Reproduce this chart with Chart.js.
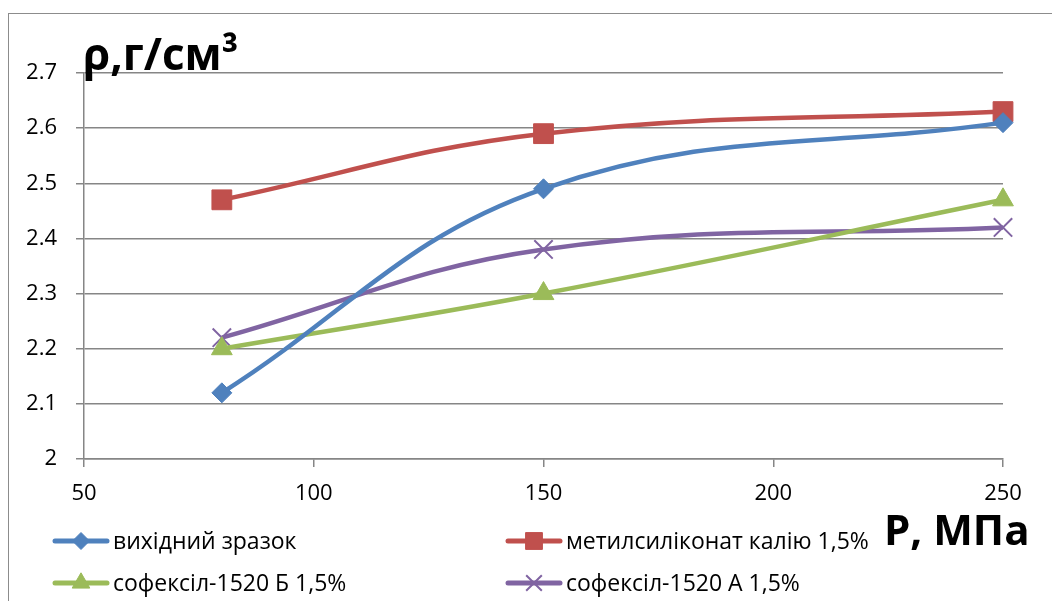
<!DOCTYPE html>
<html>
<head>
<meta charset="utf-8">
<script src="https://cdn.jsdelivr.net/npm/chart.js@4"></script>
<style>
  html, body { margin: 0; padding: 0; background: #fff; }
  #wrap { position: relative; width: 1052px; height: 601px; overflow: hidden; }
  #frame { position: absolute; left: 8px; top: 13px; width: 1100px; height: 700px; border: 1px solid #8c8c8c; box-sizing: border-box; pointer-events: none; }
</style>
</head>
<body>
<div id="wrap">
  <canvas id="densityChart" width="1052" height="601"></canvas>
  <div id="frame"></div>
</div>
<script>
// Pressure, MPa
const pressure = [80, 150, 250];

// Density, g/cm3
const initialSample = [2.12, 2.49, 2.61];
const potassiumMethylsiliconate = [2.47, 2.59, 2.63];
const sofexilB = [2.20, 2.30, 2.47];
const sofexilA = [2.22, 2.38, 2.42];

const seriesNames = [
    "вихідний зразок",
    "метилсиліконат калію 1,5%",
    "софексіл-1520 Б 1,5%",
    "софексіл-1520 А 1,5%"
];

const yTitle = "ρ,г/см³";
const xTitle = "P, МПа";

const FONT = "'Open Sans', 'Noto Sans', sans-serif";
const GRID = "#868686";

function toPoints(values) {
    return pressure.map((p, i) => ({ x: p, y: values[i] }));
}

// Legend laid out in two columns, like the original
const legendAndTitles = {
    id: "legendAndTitles",
    afterDraw(chart) {
        const ctx = chart.ctx;
        ctx.save();

        // axis titles
        ctx.fillStyle = "#000";
        ctx.textBaseline = "alphabetic";
        ctx.textAlign = "left";
        ctx.font = "bold 44px " + FONT;
        ctx.fillText(yTitle, 83, 70);
        ctx.font = "bold 42px " + FONT;
        ctx.fillText(xTitle, 884, 545);

        // legend
        const cols = [55, 508];
        const rows = [541, 583];
        chart.data.datasets.forEach((ds, i) => {
            const x = cols[i % 2];
            const y = rows[Math.floor(i / 2)];
            ctx.strokeStyle = ds.borderColor;
            ctx.fillStyle = ds.borderColor;
            ctx.lineWidth = 5;
            ctx.lineCap = "round";
            ctx.beginPath();
            ctx.moveTo(x, y);
            ctx.lineTo(x + 52, y);
            ctx.stroke();
            ctx.lineCap = "butt";
            ctx.lineWidth = ds.pointBorderWidth;
            Chart.helpers.drawPoint(ctx, {
                pointStyle: ds.pointStyle,
                radius: ds.pointRadius * 0.85,
                borderWidth: ds.pointBorderWidth
            }, x + 26, y);
            ctx.fillStyle = "#000";
            ctx.font = "23px " + FONT;
            ctx.textBaseline = "middle";
            ctx.fillText(ds.label, x + 58, y + 1);
        });
        ctx.restore();
    }
};

function series(label, values, color, style, radius) {
    return {
        label: label,
        data: toPoints(values),
        borderColor: color,
        backgroundColor: color,
        pointBackgroundColor: color,
        pointBorderColor: color,
        pointBorderWidth: style === "crossRot" ? 2 : 1,
        borderWidth: 4.5,
        pointStyle: style,
        pointRadius: radius,
        tension: 0.4,
        clip: false
    };
}

const ctx = document.getElementById("densityChart").getContext("2d");
const densityChart = new Chart(ctx, {
    type: "line",
    data: {
        datasets: [
            series(seriesNames[0], initialSample, "#4F81BD", "rectRot", 10),
            series(seriesNames[1], potassiumMethylsiliconate, "#C0504D", "rect", 14),
            series(seriesNames[2], sofexilB, "#9BBB59", "triangle", 12),
            series(seriesNames[3], sofexilA, "#8064A2", "crossRot", 13)
        ]
    },
    options: {
        responsive: false,
        animation: false,
        layout: { padding: { top: 73, right: 49, bottom: 0, left: 0 } },
        plugins: {
            legend: { display: false },
            tooltip: { enabled: false }
        },
        scales: {
            x: {
                type: "linear",
                min: 50,
                max: 250,
                afterFit(scale) { scale.height = 142; },
                ticks: {
                    stepSize: 50,
                    padding: 14,
                    color: "#000",
                    font: { family: FONT, size: 22 }
                },
                grid: {
                    drawOnChartArea: false,
                    drawTicks: true,
                    tickLength: 8,
                    color: GRID,
                    lineWidth: 1.5
                },
                border: { color: GRID, width: 1.5 }
            },
            y: {
                min: 2,
                max: 2.7,
                afterFit(scale) { scale.width = 84; },
                ticks: {
                    stepSize: 0.1,
                    padding: 19,
                    color: "#000",
                    font: { family: FONT, size: 22 },
                    callback: (v) => (Math.round(v * 10) / 10).toString()
                },
                grid: {
                    color: GRID,
                    lineWidth: 1.5,
                    tickLength: 8
                },
                border: { color: GRID, width: 1.5 }
            }
        }
    },
    plugins: [legendAndTitles]
});
</script>
</body>
</html>
